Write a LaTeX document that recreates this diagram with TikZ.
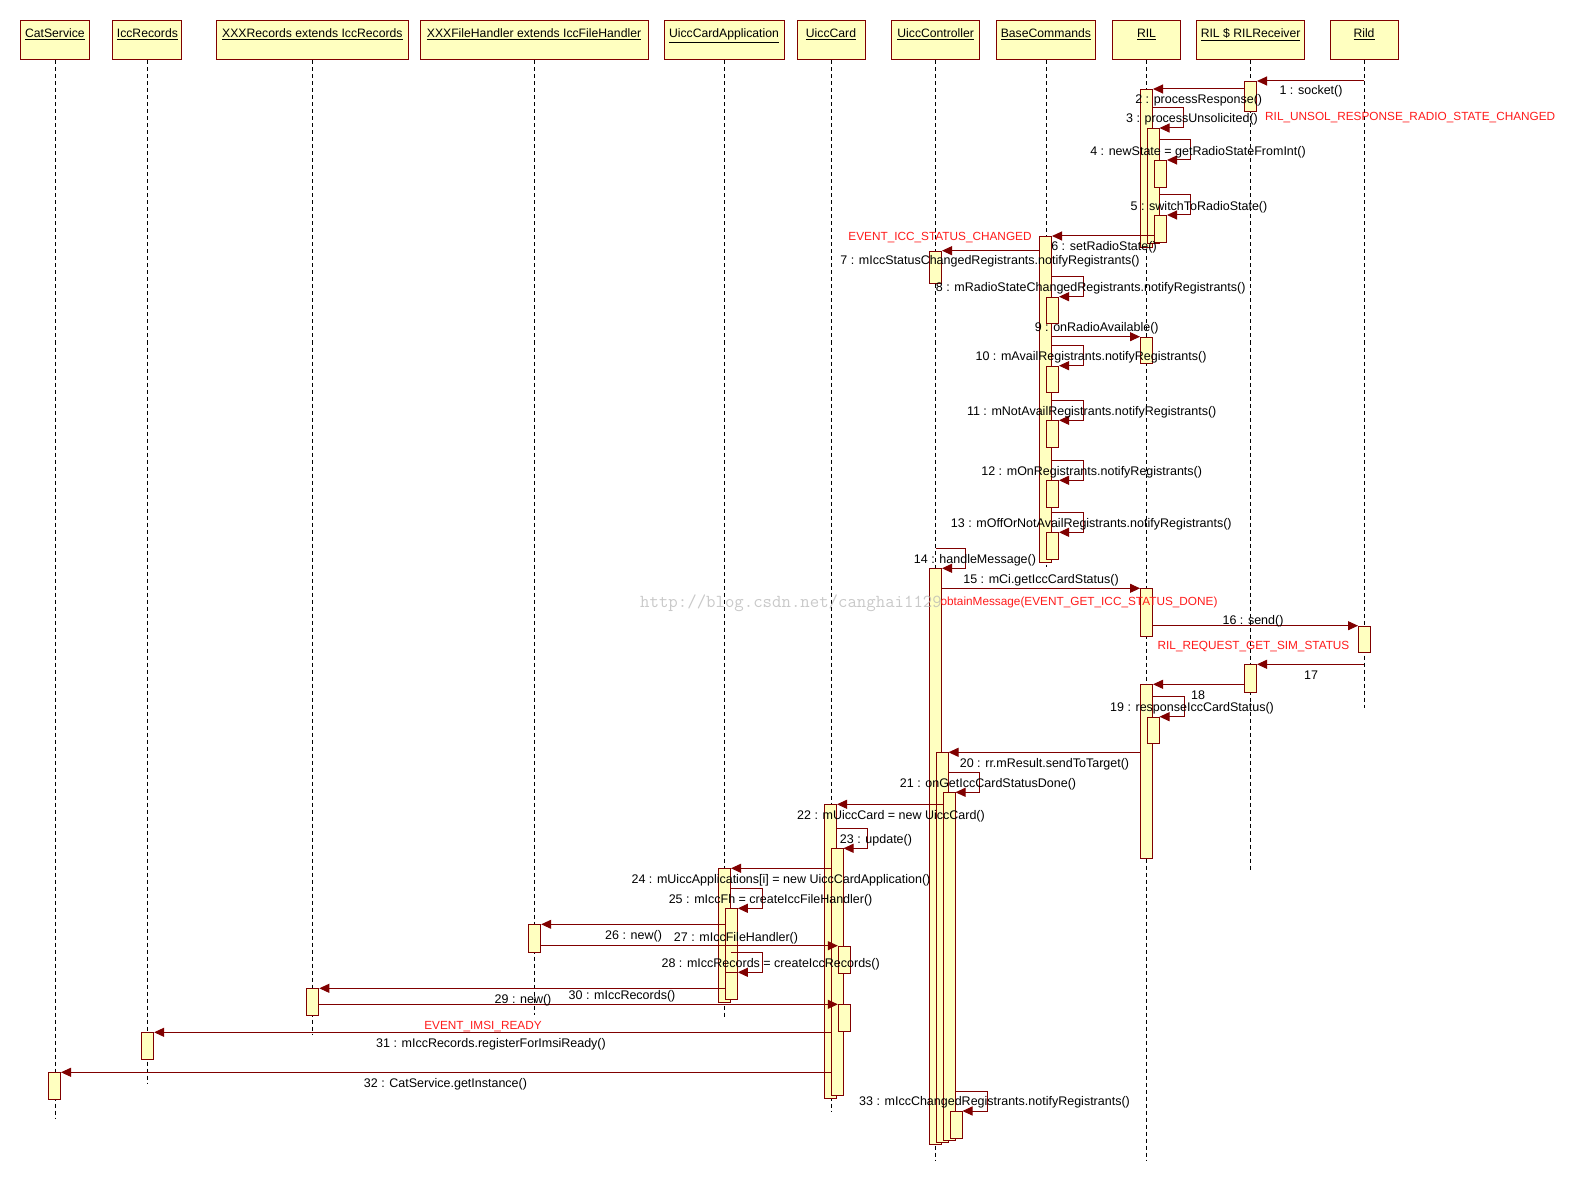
\documentclass[tikz,border=0pt]{standalone}
\usepackage{fontspec}
\setmainfont{Liberation Sans}
\usetikzlibrary{arrows.meta}
\definecolor{dkred}{HTML}{800000}
\definecolor{lemon}{HTML}{FFFFC0}
\definecolor{evred}{HTML}{FF1A1A}

\begin{document}
\begin{tikzpicture}[x=1pt, y=-1pt, font=\fontsize{12.2}{14}\selectfont,
	hdr/.style={draw=dkred, fill=lemon, line width=1pt, anchor=north, minimum height=39.5, inner xsep=2pt, inner ysep=5pt, text height=12.5pt, text depth=17pt},
	lifeline/.style={black, line width=0.7pt, dash pattern=on 4pt off 3pt},
	actbox/.style={draw=dkred, fill=lemon, line width=1pt, anchor=north, minimum width=12, inner sep=0pt},
	msg/.style={dkred, line width=1pt, -{Triangle[length=10pt, width=9pt]}},
	lbl/.style={anchor=base, inner sep=0pt, font=\fontsize{12.5}{14}\selectfont},
	evt/.style={lbl, text=evred, font=\fontsize{11.8}{14}\selectfont}]
	\useasboundingbox (0,0) rectangle (1574,1182);

	\node[hdr, minimum width=69]    (h-cat)  at (54.9,20)   {\underline{CatService}};
	\node[hdr, minimum width=69]    (h-icc)  at (147.4,20)  {\underline{IccRecords}};
	\node[hdr, minimum width=192.7] (h-rec)  at (312.4,20)  {\underline{XXXRecords extends IccRecords}};
	\node[hdr, minimum width=228]   (h-fh)   at (534,20)    {\underline{XXXFileHandler extends IccFileHandler}};
	\node[hdr, minimum width=120]   (h-app)  at (724,20)    {\underline{UiccCardApplication}};
	\node[hdr, minimum width=68]    (h-card) at (831,20)    {\underline{UiccCard}};
	\node[hdr, minimum width=87.5]  (h-uctl) at (935.7,20)  {\underline{UiccController}};
	\node[hdr, minimum width=98.3]  (h-bc)   at (1045.9,20) {\underline{BaseCommands}};
	\node[hdr, minimum width=68]    (h-ril)  at (1146.5,20) {\underline{RIL}};
	\node[hdr, minimum width=108]   (h-rcv)  at (1250.6,20) {\underline{RIL \$ RILReceiver}};
	\node[hdr, minimum width=68]    (h-rild) at (1364,20)   {\underline{Rild}};

	\foreach \h/\e in {h-cat/1118, h-icc/1083, h-rec/1035, h-fh/1015, h-app/1017, h-card/1112,
		h-uctl/1160, h-bc/567, h-ril/1160, h-rcv/872, h-rild/708}
		\draw[lifeline] (\h.south) -- (\h.south |- 0,\e);

	\node[actbox, minimum height=30]    (rcv1)  at (1250.5,81)    {};
	\node[actbox, minimum height=27.4]  (rcv2)  at (1250.5,664.3) {};
	\node[actbox, minimum height=158]   (ril1)  at (1146.5,89)    {};
	\node[actbox, minimum height=115]   (ril2)  at (1153,128)     {};
	\node[actbox, minimum height=27]    (ril3)  at (1160.5,160)   {};
	\node[actbox, minimum height=27]    (ril4)  at (1160.5,215)   {};
	\node[actbox, minimum height=26.6]  (ril5)  at (1146.5,336.7) {};
	\node[actbox, minimum height=47.4]  (ril6)  at (1146.5,588.3) {};
	\node[actbox, minimum height=174]   (ril7)  at (1146.5,684.3) {};
	\node[actbox, minimum height=26.6]  (ril8)  at (1153,716.7)   {};
	\node[actbox, minimum height=26.6]  (rild1) at (1364.5,625.7) {};
	\node[actbox, minimum height=326]   (bc1)   at (1045.5,236)   {};
	\node[actbox, minimum height=26.6]  (bc2)   at (1052.5,296.7) {};
	\node[actbox, minimum height=26.6]  (bc3)   at (1052.5,365.7) {};
	\node[actbox, minimum height=27]    (bc4)   at (1052.5,420.3) {};
	\node[actbox, minimum height=27]    (bc5)   at (1052.5,480.3) {};
	\node[actbox, minimum height=27]    (bc6)   at (1052.5,532.3) {};
	\node[actbox, minimum height=32.6]  (uc1)   at (935.5,250.7)  {};
	\node[actbox, minimum height=575.7] (uc2)   at (935.5,568.3)  {};
	\node[actbox, minimum height=389.7] (uc3)   at (942,752.3)    {};
	\node[actbox, minimum height=347.7] (uc4)   at (949,792.3)    {};
	\node[actbox, minimum height=27]    (uc5)   at (956,1111)     {};
	\node[actbox, minimum height=294]   (card1) at (830.5,804.3)  {};
	\node[actbox, minimum height=246.7] (card2) at (837,848.3)    {};
	\node[actbox, minimum height=27.6]  (card3) at (844.3,945.7)  {};
	\node[actbox, minimum height=26.7]  (card4) at (844.3,1004.3) {};
	\node[actbox, minimum height=134]   (app1)  at (724.5,868.3)  {};
	\node[actbox, minimum height=91]    (app2)  at (731.3,908.3)  {};
	\node[actbox, minimum height=27]    (app3)  at (731.3,972.3)  {};
	\node[actbox, minimum height=27.4]  (fh1)   at (534.7,924.3)  {};
	\node[actbox, minimum height=27]    (rec1)  at (312.8,988.3)  {};
	\node[actbox, minimum height=27]    (icc1)  at (147.6,1032.3) {};
	\node[actbox, minimum height=27]    (cat1)  at (54.5,1072.3)  {};

	\draw[msg] (h-rild.south |- rcv1.north) -- (rcv1.north east);
	\draw[msg] (rcv1.west |- ril1.north) -- (ril1.north east);
	\draw[msg] (ril1.east |- 0,108) -- ++(30.5,0) |- (ril2.north east);
	\draw[msg] (ril2.east |- 0,140) -- ++(31,0) |- (ril3.north east);
	\draw[msg] (ril2.east |- 0,195) -- ++(31,0) |- (ril4.north east);
	\draw[msg] (ril4.west |- bc1.north) -- (bc1.north east);
	\draw[msg] (bc1.west |- uc1.north) -- (uc1.north east);
	\draw[msg] (bc1.east |- 0,276.7) -- ++(31,0) |- (bc2.north east);
	\draw[msg] (bc1.east |- ril5.north) -- (ril5.north west);
	\draw[msg] (bc1.east |- 0,345.7) -- ++(31,0) |- (bc3.north east);
	\draw[msg] (bc1.east |- 0,400.7) -- ++(31,0) |- (bc4.north east);
	\draw[msg] (bc1.east |- 0,460.7) -- ++(31,0) |- (bc5.north east);
	\draw[msg] (bc1.east |- 0,512.7) -- ++(31,0) |- (bc6.north east);
	\draw[msg] (h-uctl.south |- 0,548.3) -- ++(30,0) |- (uc2.north east);
	\draw[msg] (uc2.east |- ril6.north) -- (ril6.north west);
	\draw[msg] (ril6.east |- rild1.north) -- (rild1.north west);
	\draw[msg] (h-rild.south |- rcv2.north) -- (rcv2.north east);
	\draw[msg] (rcv2.west |- ril7.north) -- (ril7.north east);
	\draw[msg] (ril7.east |- 0,696) -- ++(31,0) |- (ril8.north east);
	\draw[msg] (ril7.west |- uc3.north) -- (uc3.north east);
	\draw[msg] (uc3.east |- 0,772.3) -- ++(31,0) |- (uc4.north east);
	\draw[msg] (uc4.west |- card1.north) -- (card1.north east);
	\draw[msg] (card1.east |- 0,828.3) -- ++(30.6,0) |- (card2.north east);
	\draw[msg] (card2.west |- app1.north) -- (app1.north east);
	\draw[msg] (app1.east |- 0,888.3) -- ++(31,0) |- (app2.north east);
	\draw[msg] (app2.west |- fh1.north) -- (fh1.north east);
	\draw[msg] (fh1.east |- card3.north) -- (card3.north west);
	\draw[msg] (app1.east |- 0,952.3) -- ++(31,0) |- (app3.north east);
	\draw[msg] (app2.west |- rec1.north) -- (rec1.north east);
	\draw[msg] (rec1.east |- card4.north) -- (card4.north west);
	\draw[msg] (card2.west |- icc1.north) -- (icc1.north east);
	\draw[msg] (card2.west |- cat1.north) -- (cat1.north east);
	\draw[msg] (uc4.east |- 0,1091) -- ++(32,0) |- (uc5.north east);

	\node[lbl] (m1)  at (1311,95)     {1 : socket()};
	\node[lbl] (m2)  at (1198.7,104)  {2 : processResponse()};
	\node[lbl] (m3)  at (1192,123)    {3 : processUnsolicited()};
	\node[evt, anchor=base west] (e3) at (1265,121) {RIL\_UNSOL\_RESPONSE\_RADIO\_STATE\_CHANGED};
	\node[lbl] (m4)  at (1198,155.5)  {4 : newState = getRadioStateFromInt()};
	\node[lbl] (m5)  at (1199,210.5)  {5 : switchToRadioState()};
	\node[lbl] (m6)  at (1104,251)    {6 : setRadioState()};
	\node[evt] (e7)  at (940,241)     {EVENT\_ICC\_STATUS\_CHANGED};
	\node[lbl] (m7)  at (990,265)     {7 : mIccStatusChangedRegistrants.notifyRegistrants()};
	\node[lbl] (m8)  at (1090.7,291)  {8 : mRadioStateChangedRegistrants.notifyRegistrants()};
	\node[lbl] (m9)  at (1096.7,331)  {9 : onRadioAvailable()};
	\node[lbl] (m10) at (1091,360)    {10 : mAvailRegistrants.notifyRegistrants()};
	\node[lbl] (m11) at (1091.7,415.5) {11 : mNotAvailRegistrants.notifyRegistrants()};
	\node[lbl] (m12) at (1091.7,475)  {12 : mOnRegistrants.notifyRegistrants()};
	\node[lbl] (m13) at (1091.3,527)  {13 : mOffOrNotAvailRegistrants.notifyRegistrants()};
	\node[lbl] (m14) at (975,563.5)   {14 : handleMessage()};
	\node[lbl] (m15) at (1041,583.5)  {15 : mCi.getIccCardStatus()};
	\node[evt] (e15) at (1079,605.5)  {obtainMessage(EVENT\_GET\_ICC\_STATUS\_DONE)};
	\node[lbl] (m16) at (1253,624.5)  {16 : send()};
	\node[evt] (e16) at (1253.5,649)  {RIL\_REQUEST\_GET\_SIM\_STATUS};
	\node[lbl] (m17) at (1311,679.5)  {17};
	\node[lbl] (m18) at (1198,699)    {18};
	\node[lbl] (m19) at (1192,711)    {19 : responseIccCardStatus()};
	\node[lbl] (m20) at (1044.5,767)  {20 : rr.mResult.sendToTarget()};
	\node[lbl] (m21) at (988,787)     {21 : onGetIccCardStatusDone()};
	\node[lbl] (m22) at (891,819.5)   {22 : mUiccCard = new UiccCard()};
	\node[lbl] (m23) at (876,843.5)   {23 : update()};
	\node[lbl] (m24) at (781,883.5)   {24 : mUiccApplications[i] = new UiccCardApplication()};
	\node[lbl] (m25) at (770.6,903.5) {25 : mIccFh = createIccFileHandler()};
	\node[lbl] (m26) at (633.6,939.5) {26 : new()};
	\node[lbl] (m27) at (736,941)     {27 : mIccFileHandler()};
	\node[lbl] (m28) at (770.7,967.5) {28 : mIccRecords = createIccRecords()};
	\node[lbl] (m29) at (523,1003.5)  {29 : new()};
	\node[lbl] (m30) at (622,999.5)   {30 : mIccRecords()};
	\node[evt] (e31) at (483,1029.5)  {EVENT\_IMSI\_READY};
	\node[lbl] (m31) at (491,1047)    {31 : mIccRecords.registerForImsiReady()};
	\node[lbl] (m32) at (445.5,1087)  {32 : CatService.getInstance()};
	\node[lbl] (m33) at (994.5,1105)  {33 : mIccChangedRegistrants.notifyRegistrants()};

	\node[lbl, font=\ttfamily\fontsize{18.3}{20}\selectfont, text=black!30, opacity=0.7] (wmark) at (791,607) {http://blog.csdn.net/canghai1129};
\end{tikzpicture}
\end{document}
